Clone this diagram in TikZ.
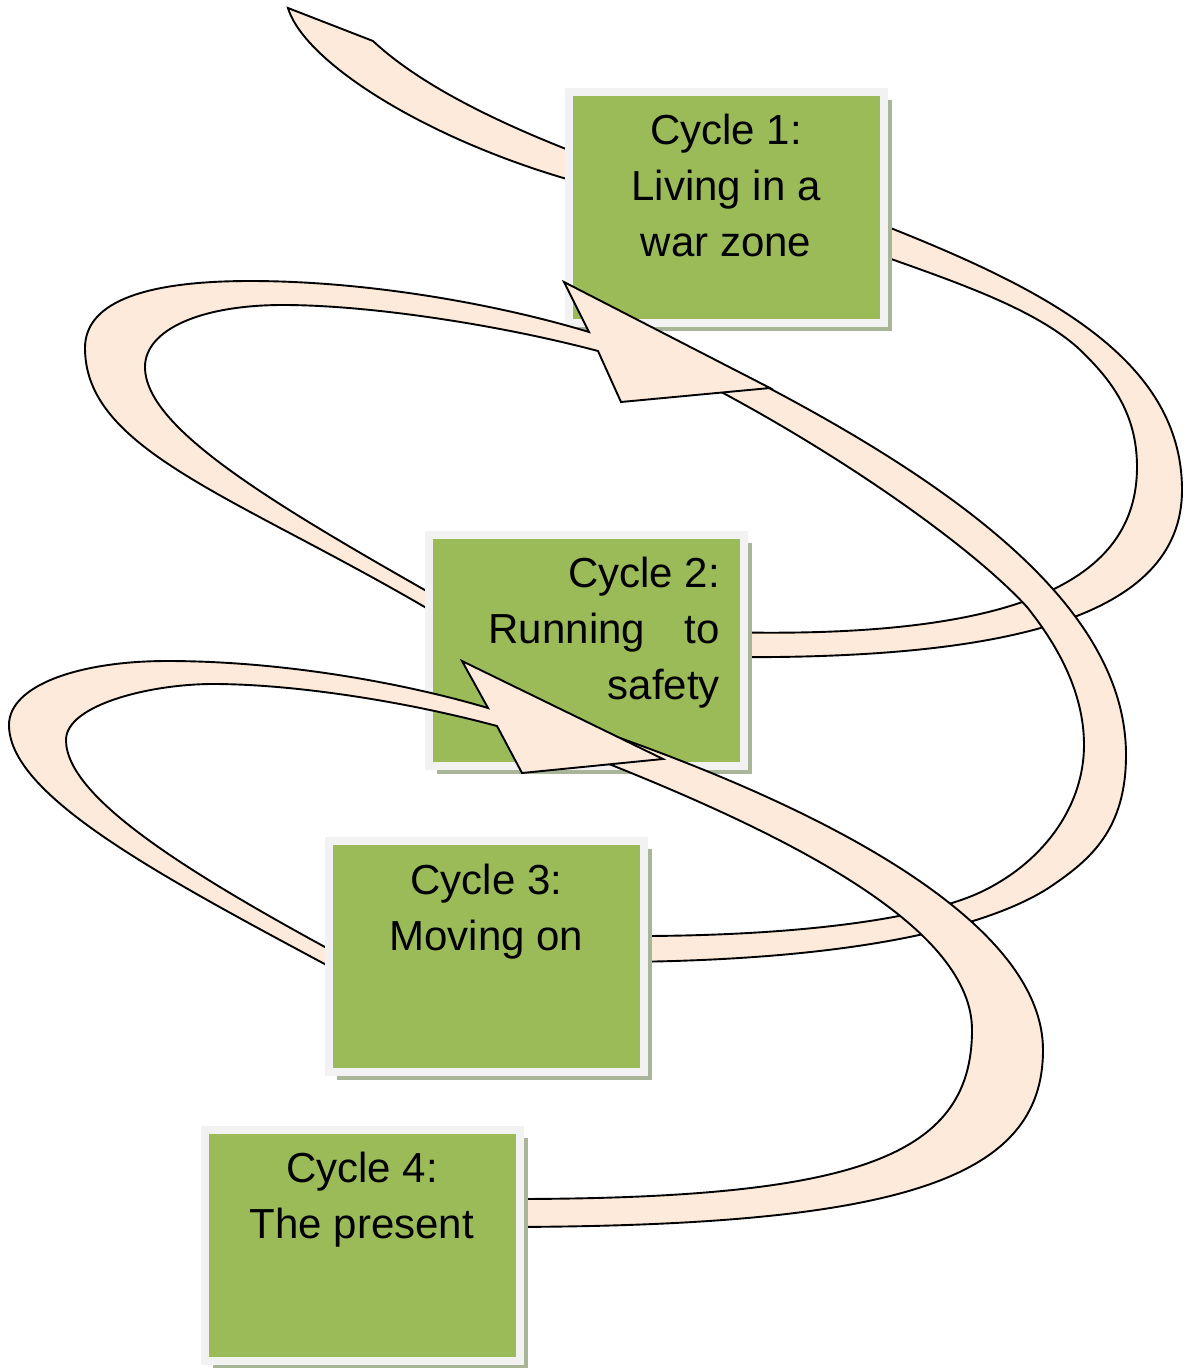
\documentclass[tikz,border=0pt]{standalone}
\usepackage{fontspec}
\setmainfont{Liberation Sans}
\usepackage{xcolor}
\usepackage{tikz}
\usetikzlibrary{shadows}
\definecolor{boxgreen}{HTML}{9BBB59}
\definecolor{boxrim}{HTML}{F2F2F2}
\definecolor{boxshade}{HTML}{A8B596}
\definecolor{ribbonfill}{HTML}{FDEADA}
\newcommand{\cyclefont}{\fontsize{42}{56}\selectfont}
\tikzset{
  cyclebox/.style={draw=boxrim, line width=8pt, fill=boxgreen,
    minimum width=315pt, minimum height=231pt, inner sep=0pt,
    drop shadow={shadow xshift=8pt, shadow yshift=-8pt, fill=boxshade, opacity=1}},
  cycletext/.style={font=\cyclefont, inner sep=0pt, anchor=north, align=center},
  ribbon/.style={fill=ribbonfill, draw=black, line width=1.9pt}
}
\begin{document}
\begin{tikzpicture}[x=1pt,y=-1pt]
  \useasboundingbox (0,0) rectangle (1192,1368);
  \filldraw[ribbon] (288,8) .. controls (305,65) and (440,148) .. (600,188)
    -- (600,162) .. controls (500,125) and (420,85) .. (373,41) -- cycle;
  \filldraw[ribbon] (860,216) .. controls (1030,282) and (1182,352) .. (1182,490)
    .. controls (1182,620) and (1000,660) .. (720,657)
    -- (720,632) .. controls (1020,640) and (1137,580) .. (1137,467)
    .. controls (1137,412) and (1110,378) .. (1077,347)
    .. controls (1030,306) and (950,280) .. (860,248) -- cycle;
  \node[cyclebox] (c1) at (726.5,207.5) {};
  \node[cycletext] (t1) at (726,114) {Cycle 1:\\Living in a\\war zone};
  \filldraw[ribbon] (690,348) .. controls (940,470) and (1126,600) .. (1126,755)
    .. controls (1126,830) and (1090,860) .. (1050,887)
    .. controls (1000,920) and (880,960) .. (620,962)
    -- (620,936) .. controls (800,937) and (930,918) .. (985,890)
    .. controls (1045,860) and (1084,805) .. (1084,745)
    .. controls (1084,690) and (1055,642) .. (1027,607)
    .. controls (975,550) and (850,460) .. (710,386) -- cycle;
  \filldraw[ribbon] (460,628) .. controls (250,500) and (85,455) .. (85,348)
    .. controls (85,300) and (150,281) .. (250,281)
    .. controls (370,281) and (500,305) .. (589,332)
    -- (564,282) -- (770,388) -- (621,402) -- (598,351)
    .. controls (500,325) and (370,305) .. (283,305)
    .. controls (200,305) and (145,330) .. (145,367)
    .. controls (145,430) and (280,508) .. (460,610) -- cycle;
  \node[cyclebox] (c2) at (586.5,650.5) {};
  \node[cycletext, anchor=north east, align=right] (t2) at (720,557) {Cycle 2:\\Running\hspace{28pt} to\\safety};
  \filldraw[ribbon] (620,738) .. controls (850,820) and (1043,930) .. (1043,1050)
    .. controls (1043,1180) and (900,1227) .. (495,1227)
    -- (495,1199) .. controls (850,1200) and (972,1160) .. (972,1030)
    .. controls (972,930) and (800,840) .. (604,762) -- cycle;
  \filldraw[ribbon] (360,983) .. controls (180,886) and (9,800) .. (9,725)
    .. controls (9,685) and (80,661) .. (167,661)
    .. controls (280,661) and (400,682) .. (488,708)
    -- (462,661) -- (663,759) -- (522,773) -- (497,726)
    .. controls (400,700) and (290,684) .. (213,684)
    .. controls (150,684) and (66,705) .. (66,740)
    .. controls (66,800) and (200,880) .. (360,966) -- cycle;
  \node[cyclebox] (c3) at (486.5,956.5) {};
  \node[cycletext] (t3) at (486.5,864) {Cycle 3:\\Moving on};
  \node[cyclebox] (c4) at (362,1245.5) {};
  \node[cycletext] (t4) at (362,1152) {Cycle 4:\\The present};
\end{tikzpicture}
\end{document}
